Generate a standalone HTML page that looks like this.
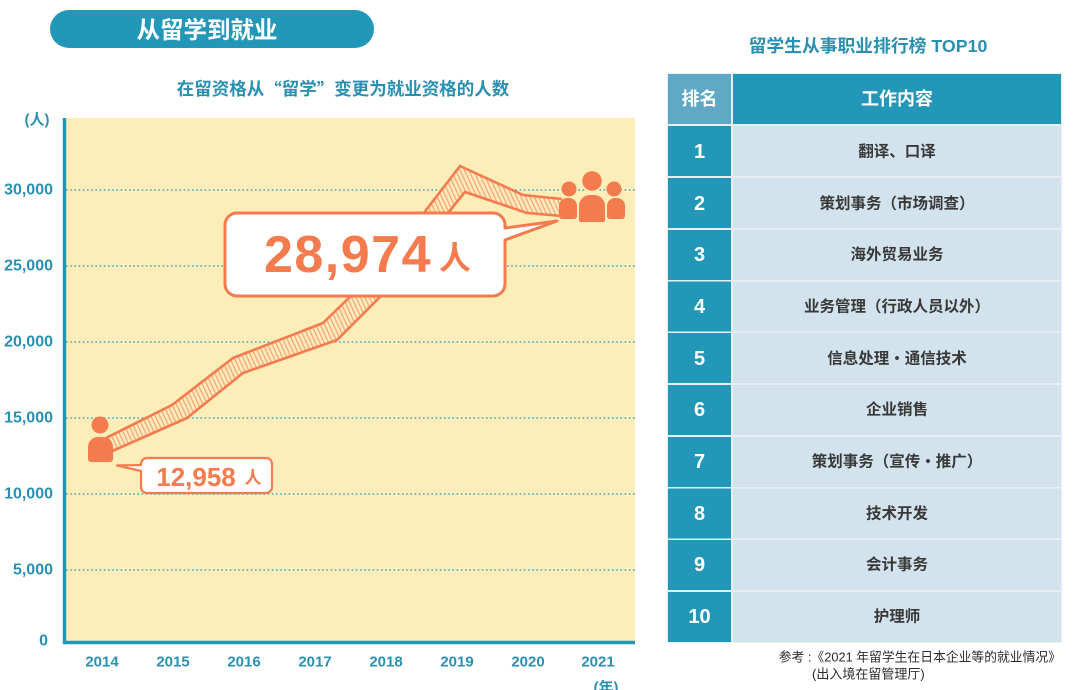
<!DOCTYPE html>
<html><head><meta charset="utf-8"><style>
html,body{margin:0;padding:0;background:#fff;}
svg{display:block;}
text{font-family:"Liberation Sans","Noto Sans CJK SC",sans-serif;}
</style></head><body>
<svg width="1080" height="690" viewBox="0 0 1080 690" xmlns="http://www.w3.org/2000/svg">
<defs>
<pattern id="hatch" patternUnits="userSpaceOnUse" width="4" height="6" patternTransform="rotate(-25)">
<rect width="4" height="6" fill="#fdedb9"/>
<line x1="1" y1="0" x2="1" y2="6" stroke="#f6a47c" stroke-width="1.3"/>
</pattern>
</defs>
<!-- title pill -->
<rect x="50" y="10" width="324" height="38" rx="19" fill="#2397b8"/>
<text x="207" y="30" text-anchor="middle" dominant-baseline="central" font-size="23.5" font-weight="bold" fill="#fff">从留学到就业</text>
<!-- subtitle -->
<text x="343" y="89" text-anchor="middle" dominant-baseline="central" font-size="17.5" font-weight="bold" fill="#2a90b2">在留资格从<tspan font-family="Noto Sans CJK SC">“</tspan>留学<tspan font-family="Noto Sans CJK SC">”</tspan>变更为就业资格的人数</text>
<text x="37" y="120" text-anchor="middle" dominant-baseline="central" font-size="15" font-weight="bold" fill="#2a90b2">(人)</text>
<!-- plot area -->
<rect x="64" y="118" width="571" height="525" fill="#fdedb9"/>
<g stroke="#3aa5c0" stroke-width="1.6" stroke-dasharray="1.6 2.6">
<line x1="66" y1="190" x2="635" y2="190"/>
<line x1="66" y1="266" x2="635" y2="266"/>
<line x1="66" y1="342" x2="635" y2="342"/>
<line x1="66" y1="418" x2="635" y2="418"/>
<line x1="66" y1="494" x2="635" y2="494"/>
<line x1="66" y1="570" x2="635" y2="570"/>
</g>
<line x1="64.5" y1="118" x2="64.5" y2="644" stroke="#2397b8" stroke-width="3.5"/>
<line x1="63" y1="642.5" x2="635" y2="642.5" stroke="#2397b8" stroke-width="3.5"/>
<!-- y labels -->
<g font-size="16" font-weight="bold" fill="#2a90b2" text-anchor="end">
<text x="53" y="190" dominant-baseline="central">30,000</text>
<text x="53" y="266" dominant-baseline="central">25,000</text>
<text x="53" y="342" dominant-baseline="central">20,000</text>
<text x="53" y="418" dominant-baseline="central">15,000</text>
<text x="53" y="494" dominant-baseline="central">10,000</text>
<text x="53" y="570" dominant-baseline="central">5,000</text>
<text x="48" y="641" dominant-baseline="central">0</text>
</g>
<!-- x labels -->
<g font-size="15" font-weight="bold" fill="#2a90b2" text-anchor="middle">
<text x="102" y="662" dominant-baseline="central">2014</text>
<text x="173" y="662" dominant-baseline="central">2015</text>
<text x="244" y="662" dominant-baseline="central">2016</text>
<text x="315" y="662" dominant-baseline="central">2017</text>
<text x="386" y="662" dominant-baseline="central">2018</text>
<text x="457" y="662" dominant-baseline="central">2019</text>
<text x="528" y="662" dominant-baseline="central">2020</text>
<text x="598" y="662" dominant-baseline="central">2021</text>
<text x="606" y="688" dominant-baseline="central" font-size="15">(年)</text>
</g>
<!-- band -->
<polygon points="106,438 172,405 233,358 323,323 386,262 460,166 523,195 562,199 562,216 527,213 465,192 380,297 337,340 243,373 187,418 108,453" fill="url(#hatch)"/>
<g fill="none" stroke="#f47b4d" stroke-width="2.6" stroke-linejoin="round">
<polyline points="106,438 172,405 233,358 323,323 386,262 460,166 523,195 562,199"/>
<polyline points="108,453 187,418 243,373 337,340 380,297 465,192 527,213 562,216"/>
</g>
<!-- single person -->
<g fill="#f47b4d">
<circle cx="100" cy="425" r="8.5"/>
<path d="M88,447 A10,10 0 0 1 98,437 H103 A10,10 0 0 1 113,447 V459 A3,3 0 0 1 110,462 H91 A3,3 0 0 1 88,459 Z"/>
</g>
<!-- group -->
<g fill="#f47b4d">
<circle cx="569" cy="189" r="7.5"/>
<circle cx="614" cy="189" r="7.5"/>
<path d="M559,206 A8,8 0 0 1 567,198 H569 A8,8 0 0 1 577,206 V216 A3,3 0 0 1 574,219 H562 A3,3 0 0 1 559,216 Z"/>
<path d="M607,206 A8,8 0 0 1 615,198 H617 A8,8 0 0 1 625,206 V216 A3,3 0 0 1 622,219 H610 A3,3 0 0 1 607,216 Z"/>
<circle cx="592" cy="181" r="10.5" stroke="#fdedb9" stroke-width="1.5"/>
<path d="M578,206 A12,12 0 0 1 590,194 H594 A12,12 0 0 1 606,206 V220 A3,3 0 0 1 603,223 H581 A3,3 0 0 1 578,220 Z" stroke="#fdedb9" stroke-width="2"/>
</g>
<!-- small callout -->
<path d="M147,458 H266 A6,6 0 0 1 272,464 V487 A6,6 0 0 1 266,493 H147 A6,6 0 0 1 141,487 V471 L117,465.5 L141,465 V464 A6,6 0 0 1 147,458 Z" fill="#fff" stroke="#f47b4d" stroke-width="2.2" stroke-linejoin="round"/>
<text x="196" y="477" text-anchor="middle" dominant-baseline="central" font-size="26" font-weight="bold" fill="#f47b4d">12,958</text>
<text x="253" y="478" text-anchor="middle" dominant-baseline="central" font-size="17" font-weight="bold" fill="#f47b4d">人</text>
<!-- big callout -->
<path d="M237,213 H493 A12,12 0 0 1 505,225 V228 L557,221 L505,240 V284 A12,12 0 0 1 493,296 H237 A12,12 0 0 1 225,284 V225 A12,12 0 0 1 237,213 Z" fill="#fff" stroke="#f47b4d" stroke-width="3" stroke-linejoin="round"/>
<text x="348" y="255" text-anchor="middle" dominant-baseline="central" font-size="52" font-weight="bold" fill="#f47b4d" letter-spacing="1.5">28,974</text>
<text x="455" y="258" text-anchor="middle" dominant-baseline="central" font-size="32" font-weight="bold" fill="#f47b4d">人</text>
<!-- table title -->
<text x="868" y="46" text-anchor="middle" dominant-baseline="central" font-size="17.8" font-weight="bold" fill="#2a90b2">留学生从事职业排行榜 TOP10</text>
<!-- table -->
<rect x="667" y="73" width="395" height="570" fill="#e8eff4"/>
<rect x="668" y="74" width="63" height="50" fill="#5fa9c6"/>
<rect x="733" y="74" width="328" height="50" fill="#2397b8"/>
<text x="699.5" y="99" text-anchor="middle" dominant-baseline="central" font-size="18" font-weight="bold" fill="#fff">排名</text>
<text x="897" y="99" text-anchor="middle" dominant-baseline="central" font-size="18" font-weight="bold" fill="#fff">工作内容</text>
<g>
<rect x="668" y="126" width="63" height="50" fill="#2397b8"/><rect x="733" y="126" width="328" height="50" fill="#d3e3ed"/>
<rect x="668" y="178" width="63" height="50" fill="#2397b8"/><rect x="733" y="178" width="328" height="50" fill="#d3e3ed"/>
<rect x="668" y="230" width="63" height="50" fill="#2397b8"/><rect x="733" y="230" width="328" height="50" fill="#d3e3ed"/>
<rect x="668" y="281.5" width="63" height="50" fill="#2397b8"/><rect x="733" y="281.5" width="328" height="50" fill="#d3e3ed"/>
<rect x="668" y="333" width="63" height="50" fill="#2397b8"/><rect x="733" y="333" width="328" height="50" fill="#d3e3ed"/>
<rect x="668" y="385" width="63" height="50" fill="#2397b8"/><rect x="733" y="385" width="328" height="50" fill="#d3e3ed"/>
<rect x="668" y="437" width="63" height="50" fill="#2397b8"/><rect x="733" y="437" width="328" height="50" fill="#d3e3ed"/>
<rect x="668" y="488.5" width="63" height="50" fill="#2397b8"/><rect x="733" y="488.5" width="328" height="50" fill="#d3e3ed"/>
<rect x="668" y="540" width="63" height="50" fill="#2397b8"/><rect x="733" y="540" width="328" height="50" fill="#d3e3ed"/>
<rect x="668" y="592" width="63" height="50" fill="#2397b8"/><rect x="733" y="592" width="328" height="50" fill="#d3e3ed"/>
</g>
<g font-size="20" font-weight="bold" fill="#fff" text-anchor="middle">
<text x="699.5" y="152" dominant-baseline="central">1</text>
<text x="699.5" y="204" dominant-baseline="central">2</text>
<text x="699.5" y="255" dominant-baseline="central">3</text>
<text x="699.5" y="307" dominant-baseline="central">4</text>
<text x="699.5" y="359" dominant-baseline="central">5</text>
<text x="699.5" y="410" dominant-baseline="central">6</text>
<text x="699.5" y="462" dominant-baseline="central">7</text>
<text x="699.5" y="514" dominant-baseline="central">8</text>
<text x="699.5" y="565" dominant-baseline="central">9</text>
<text x="699.5" y="617" dominant-baseline="central">10</text>
</g>
<g font-size="15.5" fill="#383838" text-anchor="middle" font-weight="bold">
<text x="897" y="152" dominant-baseline="central">翻译、口译</text>
<text x="897" y="204" dominant-baseline="central">策划事务（市场调查）</text>
<text x="897" y="255" dominant-baseline="central">海外贸易业务</text>
<text x="897" y="307" dominant-baseline="central">业务管理（行政人员以外）</text>
<text x="897" y="359" dominant-baseline="central">信息处理・通信技术</text>
<text x="897" y="410" dominant-baseline="central">企业销售</text>
<text x="897" y="462" dominant-baseline="central">策划事务（宣传・推广）</text>
<text x="897" y="514" dominant-baseline="central">技术开发</text>
<text x="897" y="565" dominant-baseline="central">会计事务</text>
<text x="897" y="617" dominant-baseline="central">护理师</text>
</g>
<!-- footnote -->
<text x="1061" y="657" text-anchor="end" dominant-baseline="central" font-size="12.8" fill="#2b2b2b">参考 :《2021 年留学生在日本企业等的就业情况》</text>
<text x="812" y="674" dominant-baseline="central" font-size="13" fill="#2b2b2b">(出入境在留管理厅)</text>
</svg>
</body></html>
